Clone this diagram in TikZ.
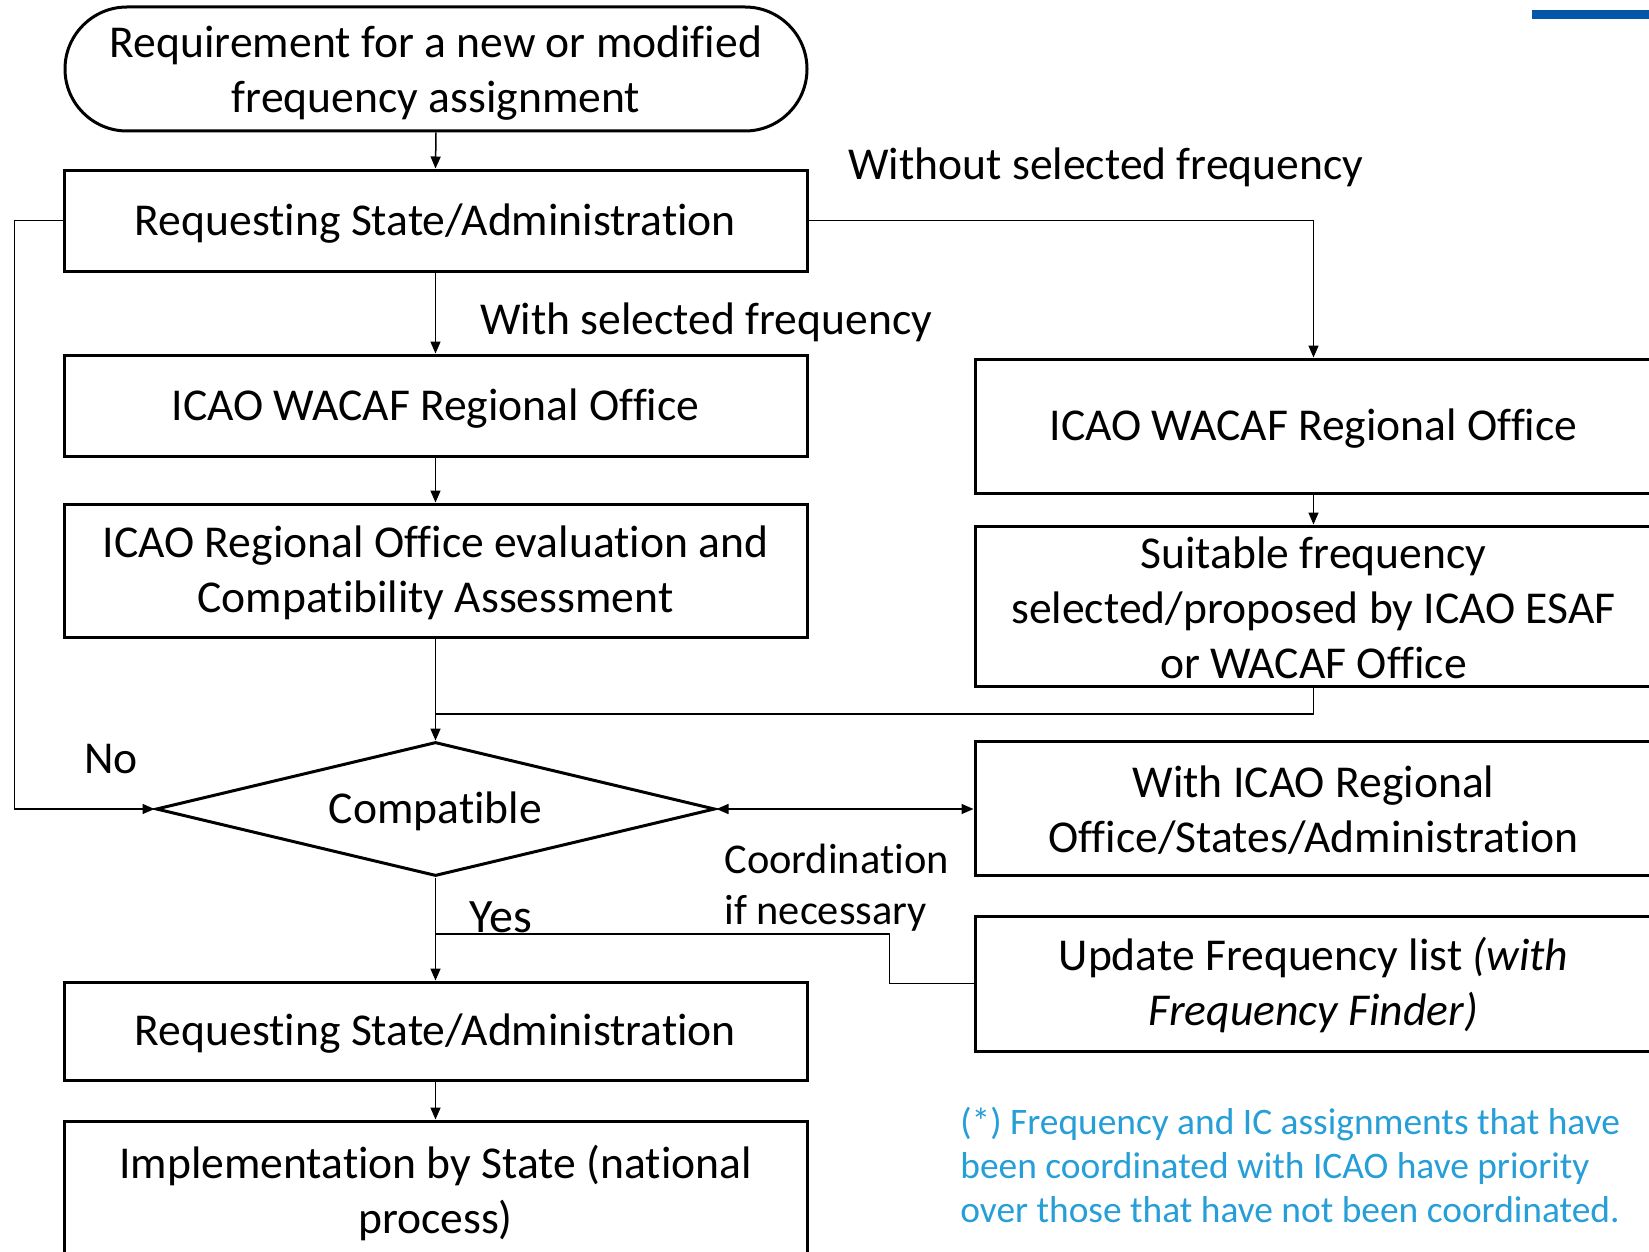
\documentclass[tikz,border=0pt]{standalone}
\usepackage{fontspec}
\setmainfont{Carlito}[Ligatures=NoCommon]
\usetikzlibrary{shapes.geometric,arrows.meta}
\definecolor{notecol}{RGB}{38,158,216}
\definecolor{barcol}{RGB}{2,87,168}
\begin{document}
\begin{tikzpicture}[x=0.5pt,y=-0.5pt,
  box/.style={draw,line width=1.5pt,minimum width=371.5pt,inner sep=0pt},
  rbox/.style={draw,line width=1.5pt,minimum width=338.5pt,inner sep=0pt},
  txt/.style={font=\fontsize{22.8}{27.5}\selectfont,align=center,inner sep=0pt},
  lbl/.style={font=\fontsize{22.8}{25}\selectfont,align=left,inner sep=0pt,anchor=west},
  conn/.style={line width=0.75pt},
  arr/.style={conn,-{Triangle[length=6pt,width=5pt]}},
  darr/.style={conn,{Triangle[length=6pt,width=5pt]}-{Triangle[length=6pt,width=5pt]}}]
\useasboundingbox (0,0) rectangle (1649,1252);
\fill[white] (0,0) rectangle (1649,1252);
\fill[barcol] (1532,10) rectangle (1649,19);
% left column
\node[draw,line width=1.5pt,minimum width=371pt,minimum height=62pt,rounded corners=31pt,inner sep=0pt] (t) at (436,69) {};
\node[txt] at ([yshift=-2pt]t.center) {Requirement for a new or modified\\frequency assignment};
\node[box,minimum height=50.5pt] (b1) at (435.5,220.5) {};
\node[txt] at ([yshift=-1.5pt]b1.center) {Requesting State/Administration};
\node[box,minimum height=50.5pt] (b2) at (435.5,405.5) {};
\node[txt] at ([yshift=-1.5pt]b2.center) {ICAO WACAF Regional Office};
\node[box,minimum height=66.5pt] (b3) at (435.5,570.5) {};
\node[txt] at ([yshift=-1pt]b3.center) {ICAO Regional Office evaluation and\\Compatibility Assessment};
\node[draw,diamond,line width=1.5pt,minimum width=279.5pt,minimum height=67pt,inner sep=0pt] (d) at (435.5,809) {};
\node[txt] at ([yshift=-1pt]d.center) {Compatible};
\node[box,minimum height=49pt] (b4) at (435.5,1031) {};
\node[txt] at ([yshift=-1.5pt]b4.center) {Requesting State/Administration};
\node[box,minimum height=70pt] (b5) at (435.5,1191) {};
\node[txt] at ([yshift=-1pt]b5.center) {Implementation by State (national\\process)};
% right column
\node[rbox,minimum height=67pt] (r1) at (1313.5,426) {};
\node[txt] at ([yshift=-1.5pt]r1.center) {ICAO WACAF Regional Office};
\node[rbox,minimum height=80pt] (r2) at (1313.5,606) {};
\node[txt] at ([yshift=-1pt]r2.center) {Suitable frequency\\selected/proposed by ICAO ESAF\\or WACAF Office};
\node[rbox,minimum height=67pt] (r3) at (1313.5,808) {};
\node[txt] at ([yshift=-1pt]r3.center) {With ICAO Regional\\Office/States/Administration};
\node[rbox,minimum height=67.5pt] (r4) at (1313.5,983.5) {};
\node[txt] at ([yshift=-1pt]r4.center) {Update Frequency list \textit{(with}\\\textit{Frequency Finder)}};
% labels
\node[lbl] (lw) at (848,167) {Without selected frequency};
\node[lbl] (ls) at (480,322) {With selected frequency};
\node[lbl] (ln) at (84,759) {No};
\node[lbl,font=\fontsize{24}{25}\selectfont] (ly) at (469,917) {Yes};
\node[lbl,align=left,font=\fontsize{21.2}{25.5}\selectfont] (lc) at (724,888) {Coordination\\if necessary};
\node[lbl,text=notecol,font=\fontsize{18.7}{22}\selectfont] (note) at (960,1165) {(*) Frequency and IC assignments that have\\been coordinated with ICAO have priority\\over those that have not been coordinated.};
% connectors
\coordinate (j1) at (435.5,714);
\coordinate (j2) at (435.5,934);
\draw[arr] (t.south) -- (b1.north);
\draw[arr] (b1.south) -- (b2.north);
\draw[arr] (b2.south) -- (b3.north);
\draw[arr] (b3.south) -- (d.north);
\draw[arr] (b1.east) -| (r1.north);
\draw[arr] (r1.south) -- (r2.north);
\draw[conn] (r2.south) |- (j1);
\draw[arr] (b1.west) -- ++(-48,0) |- (d.west);
\draw[darr] (d.east) -- (d.east -| r3.west);
\draw[arr] (d.south) -- (b4.north);
\draw[conn] (r4.west) -- ++(-84,0) |- (j2);
\draw[arr] (b4.south) -- (b5.north);
\end{tikzpicture}
\end{document}
